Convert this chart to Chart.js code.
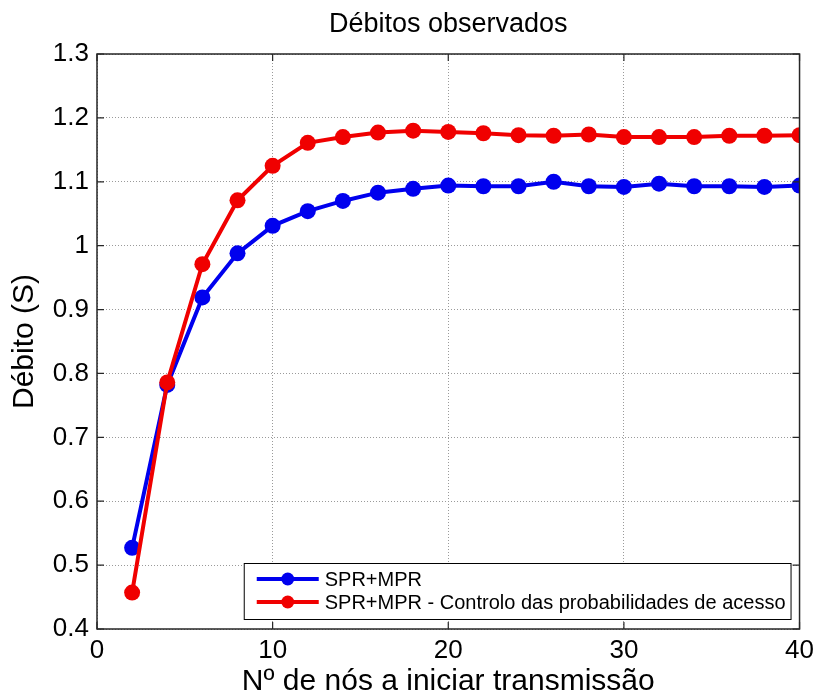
<!DOCTYPE html>
<html>
<head>
<meta charset="utf-8">
<title>Débitos observados</title>
<script src="https://cdn.jsdelivr.net/npm/chart.js@4"></script>
<style>
  html, body { margin: 0; padding: 0; background: #fff; }
  canvas { display: block; }
</style>
</head>
<body>
<canvas id="grafico" width="820" height="697"></canvas>
<script>
// Nº de nós a iniciar transmissão
const nos = [2, 4, 6, 8, 10, 12, 14, 16, 18, 20, 22, 24, 26, 28, 30, 32, 34, 36, 38, 40];

// Débito observado (S) para cada esquema
const debitoSprMpr = [0.527, 0.782, 0.919, 0.988, 1.031, 1.054, 1.070, 1.083, 1.089, 1.094,
                      1.093, 1.093, 1.100, 1.093, 1.092, 1.097, 1.093, 1.093, 1.092, 1.094];
const debitoControlo = [0.457, 0.786, 0.971, 1.071, 1.125, 1.161, 1.170, 1.177, 1.180, 1.178,
                        1.176, 1.173, 1.172, 1.174, 1.170, 1.170, 1.170, 1.172, 1.172, 1.173];

const nomesSeries = ['SPR+MPR', 'SPR+MPR - Controlo das probabilidades de acesso'];
const ticksX = [0, 10, 20, 30, 40];
const ticksY = [0.4, 0.5, 0.6, 0.7, 0.8, 0.9, 1.0, 1.1, 1.2, 1.3];

const AZUL = '#0000ee';
const VERMELHO = '#f00000';
const FONTE = '"Liberation Sans", Arial, sans-serif';

const pares = (xs, ys) => xs.map((x, i) => ({ x: x, y: ys[i] }));

// Moldura completa com marcas de escala para dentro (estilo MATLAB)
const moldura = {
    id: 'moldura',
    afterDatasetsDraw(chart) {
        const { ctx, chartArea: a, scales } = chart;
        const tam = 7;
        ctx.save();
        ctx.strokeStyle = '#262626';
        ctx.lineWidth = 1.2;
        ctx.beginPath();
        ticksX.forEach(v => {
            const px = scales.x.getPixelForValue(v);
            ctx.moveTo(px, a.bottom); ctx.lineTo(px, a.bottom - tam);
            ctx.moveTo(px, a.top); ctx.lineTo(px, a.top + tam);
        });
        ticksY.forEach(v => {
            const py = scales.y.getPixelForValue(v);
            ctx.moveTo(a.left, py); ctx.lineTo(a.left + tam, py);
            ctx.moveTo(a.right, py); ctx.lineTo(a.right - tam, py);
        });
        ctx.stroke();
        ctx.lineWidth = 1.5;
        ctx.strokeRect(a.left, a.top, a.right - a.left, a.bottom - a.top);
        ctx.restore();
    }
};

// Título centrado sobre a área do gráfico
const titulo = {
    id: 'titulo',
    afterDraw(chart) {
        const { ctx, chartArea: a } = chart;
        ctx.save();
        ctx.fillStyle = '#000';
        ctx.font = '27px ' + FONTE;
        ctx.textAlign = 'center';
        ctx.textBaseline = 'middle';
        ctx.fillText('Débitos observados', (a.left + a.right) / 2, 25);
        ctx.restore();
    }
};

// Legenda em caixa, no canto inferior direito
const legendaCaixa = {
    id: 'legendaCaixa',
    afterDraw(chart) {
        const { ctx, chartArea: a } = chart;
        ctx.save();
        ctx.font = '20px ' + FONTE;
        const largTexto = Math.max(...nomesSeries.map(t => ctx.measureText(t).width));
        const w = 81 + largTexto + 5;
        const h = 56;
        const x0 = a.right - 9 - w;
        const y0 = a.bottom - 10 - h;
        ctx.fillStyle = '#fff';
        ctx.fillRect(x0, y0, w, h);
        ctx.strokeStyle = '#000';
        ctx.lineWidth = 1;
        ctx.strokeRect(x0 + 0.5, y0 + 0.5, w, h);
        chart.data.datasets.forEach((ds, i) => {
            const yy = y0 + 16 + i * 23;
            ctx.strokeStyle = ds.borderColor;
            ctx.lineWidth = 4;
            ctx.beginPath();
            ctx.moveTo(x0 + 13, yy);
            ctx.lineTo(x0 + 75, yy);
            ctx.stroke();
            ctx.fillStyle = ds.backgroundColor;
            ctx.beginPath();
            ctx.arc(x0 + 44, yy, 6.5, 0, Math.PI * 2);
            ctx.fill();
            ctx.fillStyle = '#000';
            ctx.textAlign = 'left';
            ctx.textBaseline = 'middle';
            ctx.fillText(ds.label, x0 + 81, yy + 1);
        });
        ctx.restore();
    }
};

const ctx = document.getElementById('grafico').getContext('2d');

new Chart(ctx, {
    type: 'line',
    data: {
        datasets: [
            {
                label: nomesSeries[0],
                data: pares(nos, debitoSprMpr),
                borderColor: AZUL,
                backgroundColor: AZUL,
                borderWidth: 4,
                pointRadius: 8,
                pointBorderWidth: 0,
                tension: 0,
                order: 2
            },
            {
                label: nomesSeries[1],
                data: pares(nos, debitoControlo),
                borderColor: VERMELHO,
                backgroundColor: VERMELHO,
                borderWidth: 4,
                pointRadius: 8,
                pointBorderWidth: 0,
                tension: 0,
                order: 1
            }
        ]
    },
    options: {
        responsive: false,
        devicePixelRatio: 1,
        animation: false,
        layout: { padding: { top: 54, right: 19, left: 0, bottom: 0 } },
        plugins: {
            legend: { display: false },
            tooltip: { enabled: false },
            title: { display: false }
        },
        scales: {
            x: {
                type: 'linear',
                min: 0,
                max: 40,
                afterFit: s => { s.height = 68; },
                afterBuildTicks: s => { s.ticks = ticksX.map(v => ({ value: v })); },
                ticks: {
                    color: '#000',
                    padding: 6,
                    maxRotation: 0,
                    font: { family: FONTE, size: 26 },
                    callback: v => String(v)
                },
                grid: { color: '#9a9a9a', lineWidth: 1, drawTicks: false },
                border: { display: false, dash: [1, 2] },
                title: {
                    display: true,
                    text: 'Nº de nós a iniciar transmissão',
                    color: '#000',
                    font: { family: FONTE, size: 30, lineHeight: 1 },
                    padding: { top: 0, bottom: 0 }
                }
            },
            y: {
                min: 0.4,
                max: 1.3,
                afterFit: s => { s.width = 97; },
                afterBuildTicks: s => { s.ticks = ticksY.map(v => ({ value: v })); },
                ticks: {
                    color: '#000',
                    padding: 8,
                    font: { family: FONTE, size: 26 },
                    callback: v => String(Math.round(v * 10) / 10)
                },
                grid: { color: '#9a9a9a', lineWidth: 1, drawTicks: false },
                border: { display: false, dash: [1, 2] },
                title: {
                    display: true,
                    text: 'Débito (S)',
                    color: '#000',
                    font: { family: FONTE, size: 30, lineHeight: 1 },
                    padding: { top: 10, bottom: 0 }
                }
            }
        }
    },
    plugins: [moldura, legendaCaixa, titulo]
});
</script>
</body>
</html>
